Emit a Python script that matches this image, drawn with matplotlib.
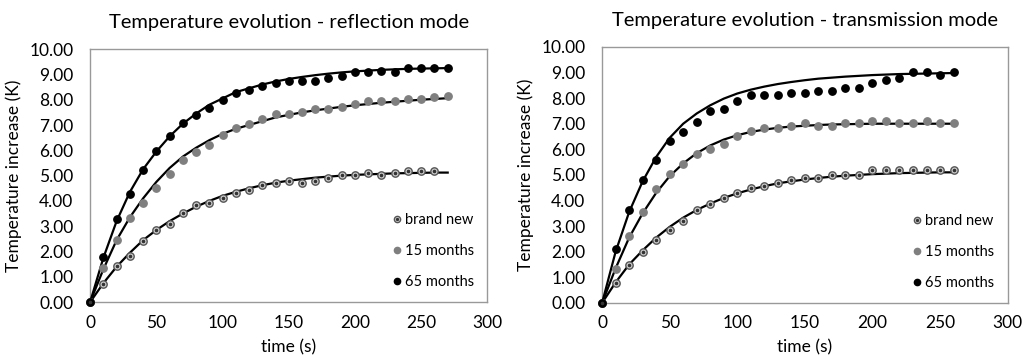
import matplotlib.pyplot as plt
from matplotlib.legend_handler import HandlerTuple

plt.rcParams['font.family'] = ['Lato', 'DejaVu Sans']

# Data
t_meas = list(range(0, 280, 10))   # 0..270 s
t_fit = list(range(0, 280, 10))

# reflection mode
refl_new = [0, 0.70, 1.41, 1.81, 2.42, 2.84, 3.10, 3.53, 3.83, 3.90, 4.12, 4.32, 4.43, 4.61,
            4.72, 4.78, 4.72, 4.78, 4.89, 5.02, 5.02, 5.11, 5.02, 5.11, 5.19, 5.19, 5.19]
refl_15 = [0, 1.35, 2.47, 3.33, 3.92, 4.52, 5.05, 5.61, 5.93, 6.21, 6.61, 6.90, 7.04, 7.24,
           7.44, 7.44, 7.50, 7.62, 7.64, 7.73, 7.82, 7.93, 7.93, 7.93, 8.02, 8.02, 8.11, 8.14]
refl_65 = [0, 1.78, 3.28, 4.29, 5.24, 5.98, 6.57, 7.08, 7.38, 7.66, 7.99, 8.26, 8.39, 8.56,
           8.68, 8.75, 8.75, 8.75, 8.86, 8.94, 9.09, 9.09, 9.14, 9.09, 9.26, 9.26, 9.26, 9.26]
refl_new_fit = [0, 0.75, 1.40, 1.95, 2.45, 2.85, 3.20, 3.50, 3.77, 4.00, 4.20, 4.36, 4.50, 4.62,
                4.72, 4.80, 4.86, 4.92, 4.96, 5.00, 5.03, 5.05, 5.07, 5.09, 5.10, 5.11, 5.12, 5.12]
refl_15_fit = [0, 1.30, 2.45, 3.35, 4.10, 4.75, 5.30, 5.75, 6.10, 6.40, 6.65, 6.85, 7.00, 7.15,
               7.30, 7.40, 7.50, 7.58, 7.65, 7.72, 7.78, 7.83, 7.88, 7.92, 7.96, 8.00, 8.03, 8.06]
refl_65_fit = [0, 1.75, 3.20, 4.35, 5.25, 5.95, 6.55, 7.05, 7.45, 7.80, 8.05, 8.30, 8.45, 8.60,
               8.72, 8.82, 8.90, 8.97, 9.03, 9.08, 9.12, 9.15, 9.18, 9.20, 9.22, 9.23, 9.24, 9.25]

# transmission mode (0..260 s)
tran_new = [0, 0.78, 1.47, 1.99, 2.47, 2.86, 3.19, 3.61, 3.88, 4.09, 4.30, 4.49, 4.58, 4.69,
            4.79, 4.88, 4.88, 4.99, 4.99, 4.99, 5.18, 5.18, 5.18, 5.18, 5.18, 5.18, 5.18]
tran_15 = [0, 1.33, 2.60, 3.54, 4.43, 5.05, 5.42, 5.83, 6.02, 6.22, 6.51, 6.71, 6.84, 6.84,
           6.93, 7.02, 6.93, 6.93, 7.02, 7.02, 7.12, 7.12, 7.02, 7.02, 7.12, 7.02, 7.02]
tran_65 = [0, 2.11, 3.62, 4.82, 5.60, 6.32, 6.69, 7.08, 7.49, 7.59, 7.90, 8.11, 8.11, 8.11,
           8.19, 8.19, 8.29, 8.29, 8.40, 8.40, 8.59, 8.70, 8.80, 9.01, 9.01, 8.91, 9.01]
tran_new_fit = [0, 0.80, 1.50, 2.05, 2.55, 2.97, 3.33, 3.63, 3.88, 4.10, 4.28, 4.43, 4.56, 4.67,
                4.75, 4.82, 4.88, 4.93, 4.97, 5.00, 5.03, 5.05, 5.07, 5.08, 5.09, 5.10, 5.10]
tran_15_fit = [0, 1.35, 2.55, 3.50, 4.30, 4.95, 5.45, 5.85, 6.15, 6.38, 6.55, 6.68, 6.77, 6.84,
               6.89, 6.92, 6.95, 6.97, 6.98, 6.99, 7.00, 7.00, 7.00, 7.00, 7.00, 7.00, 7.00]
tran_65_fit = [0, 2.00, 3.55, 4.75, 5.70, 6.45, 7.00, 7.40, 7.72, 7.98, 8.18, 8.33, 8.45, 8.55,
               8.63, 8.70, 8.76, 8.80, 8.84, 8.87, 8.90, 8.92, 8.94, 8.95, 8.96, 8.97, 8.98]

labels = ['brand new', '15 months', '65 months']
yticks = [0, 1, 2, 3, 4, 5, 6, 7, 8, 9, 10]
xticks = [0, 50, 100, 150, 200, 250, 300]

fig = plt.figure(figsize=(10.24, 3.61), dpi=100)
ax1 = fig.add_axes([0.088, 0.163, 0.388, 0.701])
ax2 = fig.add_axes([0.588, 0.161, 0.396, 0.709])


def panel(ax, title, new, m15, m65, fnew, f15, f65):
    tn = t_meas[:len(new)]
    ms = 5.3
    r1, = ax.plot(tn, new, 'o', ms=ms, mfc='#d0d0d0', mec='#555555', mew=1.0, zorder=3)
    r2, = ax.plot(tn, new, 'o', ms=1.6, mfc='#333333', mec='#333333', zorder=4)
    g, = ax.plot(t_meas[:len(m15)], m15, 'o', ms=ms, color='#7f7f7f', zorder=3)
    b, = ax.plot(t_meas[:len(m65)], m65, 'o', ms=ms, color='black', zorder=3)
    for f in (fnew, f15, f65):
        ax.plot(t_fit[:len(f)], f, '-', color='black', lw=1.6, zorder=2)

    ax.set_xlim(0, 300)
    ax.set_ylim(0, 10)
    ax.set_xticks(xticks)
    ax.set_yticks(yticks)
    ax.set_yticklabels(['%.2f' % v for v in yticks])
    ax.tick_params(length=0, labelsize=12.5)
    ax.tick_params(axis='y', pad=12)
    ax.tick_params(axis='x', pad=9)
    for s in ax.spines.values():
        s.set_color('#999999')
        s.set_linewidth(1.0)
    for s in ('bottom', 'left'):
        ax.spines[s].set_visible(False)
    ax.axhline(0, color='#999999', lw=1.0, zorder=1)
    ax.axvline(0, color='#999999', lw=1.0, zorder=1)
    for l in ax.lines:
        l.set_clip_on(False)
    ax.set_xlabel('time (s)', fontsize=12.5, labelpad=6)
    ax.set_ylabel('Temperature increase (K)', fontsize=12.5, labelpad=5)
    ax.set_title(title, fontsize=14.5, pad=15)
    ax.legend([(r1, r2), g, b], labels, handler_map={tuple: HandlerTuple(ndivide=1)},
              loc='lower right', bbox_to_anchor=(1.0, 0.0), frameon=False,
              fontsize=10.5, handlelength=0.5, handletextpad=0.3, labelspacing=1.15,
              markerscale=0.85)


panel(ax1, 'Temperature evolution - reflection mode',
      refl_new, refl_15, refl_65, refl_new_fit, refl_15_fit, refl_65_fit)
panel(ax2, 'Temperature evolution - transmission mode',
      tran_new, tran_15, tran_65, tran_new_fit, tran_15_fit, tran_65_fit)

fig.savefig('out.png', dpi=100)
